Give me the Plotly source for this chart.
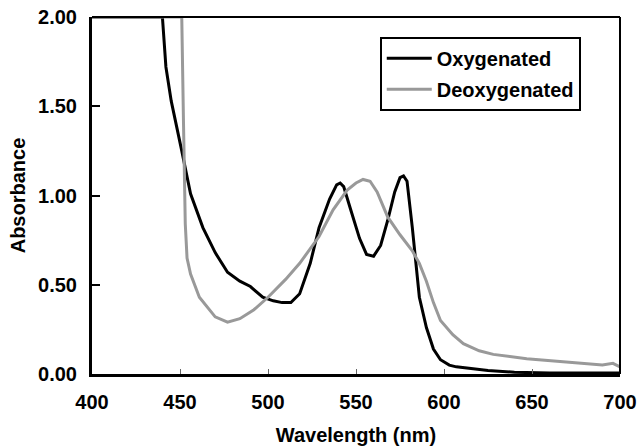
import plotly.graph_objects as go

# Oxygenated spectrum (black)
oxy_wl = [400, 440, 442, 445, 451, 456, 463, 470, 477, 484, 490, 497, 503, 508, 513,
          518, 524, 529, 535, 539, 541, 543, 547, 552, 556, 560, 564, 568, 572, 575,
          577, 579, 582, 584, 586, 590, 594, 598, 603, 607, 615, 625, 640, 660, 700]
oxy_abs = [2.00, 2.00, 1.72, 1.53, 1.25, 1.01, 0.82, 0.68, 0.57, 0.52, 0.49, 0.43, 0.41, 0.40, 0.40,
           0.45, 0.62, 0.82, 0.98, 1.06, 1.07, 1.05, 0.92, 0.76, 0.67, 0.66, 0.72, 0.86, 1.02, 1.10,
           1.11, 1.08, 0.82, 0.62, 0.43, 0.26, 0.14, 0.08, 0.05, 0.04, 0.03, 0.02, 0.01, 0.005, 0.005]

# Deoxygenated spectrum (gray)
deoxy_wl = [400, 451, 452, 453, 454, 456, 461, 465, 470, 477, 484, 492, 500, 510, 518,
            529, 537, 545, 550, 554, 558, 562, 568, 575, 582, 586, 590, 594, 598, 605,
            611, 620, 628, 647, 665, 681, 690, 696, 700]
deoxy_abs = [2.00, 2.00, 1.40, 0.84, 0.65, 0.56, 0.43, 0.38, 0.32, 0.29, 0.31, 0.36, 0.43, 0.53, 0.62,
             0.77, 0.92, 1.03, 1.07, 1.09, 1.08, 1.02, 0.88, 0.78, 0.69, 0.62, 0.52, 0.40, 0.30, 0.22,
             0.17, 0.13, 0.11, 0.085, 0.07, 0.056, 0.05, 0.06, 0.04]

x_ticks = [400, 450, 500, 550, 600, 650, 700]
y_ticks = [0.0, 0.5, 1.0, 1.5, 2.0]

FONT = "Liberation Sans, Arial, Helvetica, sans-serif"
FS = 20

fig = go.Figure()
fig.add_trace(go.Scatter(x=oxy_wl, y=oxy_abs, mode="lines", name="Oxygenated",
                         legendgroup="a",
                         line=dict(color="black", width=3)))
fig.add_trace(go.Scatter(x=deoxy_wl, y=deoxy_abs, mode="lines", name="Deoxygenated",
                         legendgroup="b",
                         line=dict(color="#999999", width=3)))

fig.update_layout(
    width=644, height=448,
    margin=dict(l=92, r=24, t=17, b=74, autoexpand=False),
    paper_bgcolor="white", plot_bgcolor="white",
    font=dict(family=FONT, size=FS, color="black", weight="bold"),
    showlegend=True,
    legend=dict(x=0.545, y=0.945, xanchor="left", yanchor="top",
                bgcolor="white", bordercolor="black", borderwidth=2,
                itemwidth=45, tracegroupgap=2,
                font=dict(size=FS, family=FONT, weight="bold")),
    xaxis=dict(range=[400, 700], tickvals=x_ticks, ticktext=[str(v) for v in x_ticks],
               ticks="inside", ticklen=5, tickwidth=1, tickcolor="#666",
               showline=True, linewidth=3, linecolor="black", mirror=False,
               showgrid=False, zeroline=False, ticklabelstandoff=8, automargin=False,
               title=dict(text="Wavelength (nm)", standoff=16,
                          font=dict(size=FS, family=FONT, weight="bold"))),
    yaxis=dict(range=[0, 2.0], tickvals=y_ticks, tickformat=".2f",
               ticks="inside", ticklen=8, tickwidth=2, tickcolor="black",
               showline=True, linewidth=3, linecolor="black", mirror=False,
               showgrid=False, zeroline=False, ticklabelstandoff=8, automargin=False,
               title=dict(text="Absorbance", standoff=8,
                          font=dict(size=FS, family=FONT, weight="bold"))),
    shapes=[
        dict(type="line", xref="paper", yref="paper", x0=0, x1=1, y0=1, y1=1,
             line=dict(color="black", width=2)),
        dict(type="line", xref="paper", yref="paper", x0=1, x1=1, y0=0, y1=1,
             line=dict(color="black", width=2)),
    ],
)

fig.write_html("out.html")
